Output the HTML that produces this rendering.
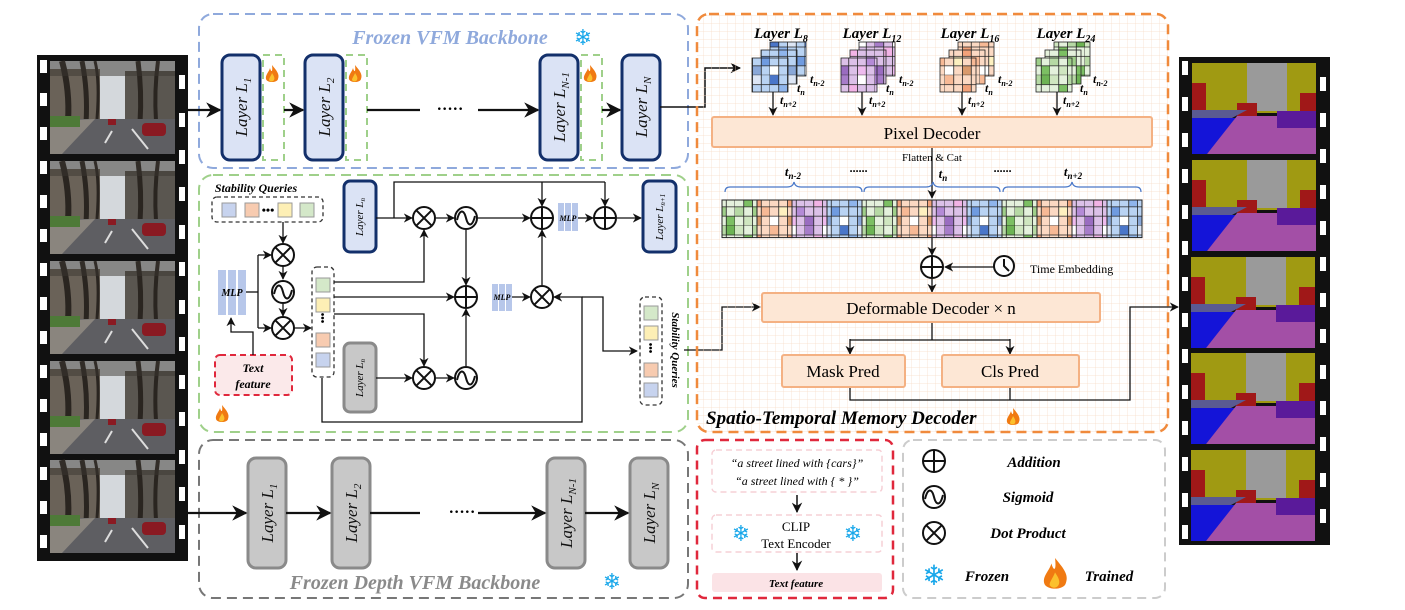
<!DOCTYPE html>
<html><head><meta charset="utf-8">
<style>
html,body{margin:0;padding:0;background:#fff;width:1405px;height:610px;overflow:hidden;}
svg{display:block;}
text{font-family:"Liberation Serif","DejaVu Serif",serif;}
.bi{font-weight:bold;font-style:italic;}
.lay{font-style:italic;font-size:17px;fill:#111;}
.sf{font-family:"DejaVu Sans",sans-serif;fill:#18a7ea;}
</style></head><body>
<svg width="1405" height="610" viewBox="0 0 1405 610" xmlns="http://www.w3.org/2000/svg">
<defs>
<marker id="a" viewBox="0 0 10 10" refX="9" refY="5" markerWidth="7" markerHeight="7" orient="auto-start-reverse"><path d="M0,0 L10,5 L0,10 L3,5z" fill="#111"/></marker>
<pattern id="grid" width="8" height="8" patternUnits="userSpaceOnUse"><path d="M8,0 V8 M0,8 H8" stroke="#f7dcc6" stroke-width="0.7" fill="none"/></pattern>
<g id="fire"><path d="M0,-10 C4,-5 8,-1 6,4 C5,8 -5,8 -6,4 C-7,0 -3,-3 -2,-7 C-1,-3 1,-2 0,-10z" fill="#f07a12"/><path d="M0,-2 C2,1 3,3 2,5 C1,7 -2,7 -3,5 C-3,3 -1,1 0,-2z" fill="#fbc02d"/></g>
<g id="plus" fill="none" stroke="#111" stroke-width="2"><circle r="11" fill="#fff"/><path d="M-11,0H11M0,-11V11"/></g>
<g id="times" fill="none" stroke="#111" stroke-width="2"><circle r="11" fill="#fff"/><path d="M-7.8,-7.8L7.8,7.8M7.8,-7.8L-7.8,7.8"/></g>
<g id="sig" fill="none" stroke="#111" stroke-width="2"><circle r="11" fill="#fff"/><path d="M-9,2 C-6,-10 -2,-8 0,0 C2,8 6,10 9,-2"/></g>
<pattern id="pg" width="35" height="37.6" patternUnits="userSpaceOnUse"><rect width="35" height="37.6" fill="#e4f1dc"/><rect x="0" y="0" width="8.75" height="9.4" fill="#cfe6c0"/><rect x="8.75" y="9.4" width="8.75" height="9.4" fill="#7cbf63"/><rect x="17.5" y="0" width="8.75" height="9.4" fill="#b6d9a4"/><rect x="26.25" y="0" width="8.75" height="9.4" fill="#6db354"/><rect x="0" y="18.8" width="8.75" height="9.4" fill="#b6d9a4"/><rect x="17.5" y="18.8" width="8.75" height="9.4" fill="#9fcf8a"/><rect x="8.75" y="28.2" width="8.75" height="9.4" fill="#cfe6c0"/><rect x="26.25" y="28.2" width="8.75" height="9.4" fill="#7cbf63"/><path d="M8.75,0V37.6M17.5,0V37.6M26.25,0V37.6M35,0V37.6M0,9.4H35M0,18.8H35M0,28.2H35M0,37.6H35" stroke="#222" stroke-width="0.8"/></pattern>
<pattern id="po" width="35" height="37.6" patternUnits="userSpaceOnUse"><rect width="35" height="37.6" fill="#fbd9c3"/><rect x="0" y="0" width="8.75" height="9.4" fill="#f7b995"/><rect x="17.5" y="9.4" width="8.75" height="9.4" fill="#f2a27a"/><rect x="8.75" y="18.8" width="8.75" height="9.4" fill="#fdf0c0"/><rect x="26.25" y="18.8" width="8.75" height="9.4" fill="#f7b995"/><rect x="0" y="28.2" width="8.75" height="9.4" fill="#fff"/><rect x="17.5" y="28.2" width="8.75" height="9.4" fill="#d99a6c"/><path d="M8.75,0V37.6M17.5,0V37.6M26.25,0V37.6M35,0V37.6M0,9.4H35M0,18.8H35M0,28.2H35M0,37.6H35" stroke="#222" stroke-width="0.8"/></pattern>
<pattern id="pp" width="35" height="37.6" patternUnits="userSpaceOnUse"><rect width="35" height="37.6" fill="#dcc0e8"/><rect x="0" y="0" width="8.75" height="9.4" fill="#a77cc9"/><rect x="8.75" y="9.4" width="8.75" height="9.4" fill="#f2b3e6"/><rect x="17.5" y="0" width="8.75" height="9.4" fill="#fff"/><rect x="26.25" y="18.8" width="8.75" height="9.4" fill="#b48ad6"/><rect x="0" y="28.2" width="8.75" height="9.4" fill="#9a6cc0"/><rect x="17.5" y="28.2" width="8.75" height="9.4" fill="#eebbee"/><path d="M8.75,0V37.6M17.5,0V37.6M26.25,0V37.6M35,0V37.6M0,9.4H35M0,18.8H35M0,28.2H35M0,37.6H35" stroke="#222" stroke-width="0.8"/></pattern>
<pattern id="pb" width="35" height="37.6" patternUnits="userSpaceOnUse"><rect width="35" height="37.6" fill="#b9d3f3"/><rect x="0" y="0" width="8.75" height="9.4" fill="#4a76c9"/><rect x="8.75" y="9.4" width="8.75" height="9.4" fill="#8fb5ec"/><rect x="17.5" y="0" width="8.75" height="9.4" fill="#dde6f5"/><rect x="26.25" y="18.8" width="8.75" height="9.4" fill="#6f9be0"/><rect x="0" y="28.2" width="8.75" height="9.4" fill="#fff"/><rect x="17.5" y="28.2" width="8.75" height="9.4" fill="#8aa8d8"/><path d="M8.75,0V37.6M17.5,0V37.6M26.25,0V37.6M35,0V37.6M0,9.4H35M0,18.8H35M0,28.2H35M0,37.6H35" stroke="#222" stroke-width="0.8"/></pattern>
<g id="photo"><rect width="125" height="93" fill="#d4d8dc"/><path d="M0,8H50V60H0z" fill="#6a6258"/><path d="M75,10 H125V62H75z" fill="#5a5650"/><g stroke="#2a2520" fill="none"><path d="M12,0 Q20,30 18,60" stroke-width="6"/><path d="M32,0 Q38,30 36,62" stroke-width="5"/><path d="M45,0 Q50,20 47,58" stroke-width="3"/><path d="M88,0 Q92,30 90,62" stroke-width="5"/><path d="M108,0 Q104,30 106,60" stroke-width="4"/></g><path d="M0,0H125V15H0z" fill="#3a3530" opacity="0.5"/><path d="M0,58H125V93H0z" fill="#5e5e62"/><path d="M0,60L45,58L12,93H0z" fill="#8a857e"/><path d="M0,55H30V66H0z" fill="#4e7a38"/><rect x="92" y="62" width="24" height="13" rx="4" fill="#8a1a22"/><rect x="58" y="58" width="8" height="6" fill="#8a1a22"/><path d="M55,82L62,70M98,88L82,68" stroke="#ddd" stroke-width="2"/></g>
<g id="seg"><rect width="124" height="91" fill="#111"/><path d="M0,0H124V50H0z" fill="#a09a12"/><path d="M55,0H95V48H55z" fill="#9a9a9a"/><path d="M0,20H14V55H0zM45,40H65V55H45zM108,30H124V55H108z" fill="#a01818"/><path d="M0,47H55L40,55H0z" fill="#5a5a92"/><path d="M0,55H45L15,91H0z" fill="#1414d8"/><path d="M45,53H124V91H15z" fill="#a34fa6"/><path d="M85,48H124V65H85z" fill="#5a1a9a"/></g>
</defs>

<!-- left film strip -->
<rect x="37" y="55" width="151" height="506" fill="#111"/>
<g fill="#fff">
<rect x="40" y="60" width="7" height="13"/><rect x="40" y="93" width="7" height="13"/><rect x="40" y="127" width="7" height="13"/><rect x="40" y="161" width="7" height="13"/><rect x="40" y="195" width="7" height="13"/><rect x="40" y="229" width="7" height="13"/><rect x="40" y="263" width="7" height="13"/><rect x="40" y="297" width="7" height="13"/><rect x="40" y="331" width="7" height="13"/><rect x="40" y="365" width="7" height="13"/><rect x="40" y="399" width="7" height="13"/><rect x="40" y="433" width="7" height="13"/><rect x="40" y="467" width="7" height="13"/><rect x="40" y="501" width="7" height="13"/><rect x="40" y="535" width="7" height="13"/>
<rect x="179" y="75" width="6" height="14"/><rect x="179" y="113" width="6" height="14"/><rect x="179" y="150" width="6" height="14"/><rect x="179" y="187" width="6" height="14"/><rect x="179" y="225" width="6" height="14"/><rect x="179" y="262" width="6" height="14"/><rect x="179" y="300" width="6" height="14"/><rect x="179" y="337" width="6" height="14"/><rect x="179" y="375" width="6" height="14"/><rect x="179" y="412" width="6" height="14"/><rect x="179" y="450" width="6" height="14"/><rect x="179" y="487" width="6" height="14"/><rect x="179" y="525" width="6" height="14"/>
</g>
<use href="#photo" x="50" y="61"/><use href="#photo" x="50" y="161"/><use href="#photo" x="50" y="261"/><use href="#photo" x="50" y="361"/><use href="#photo" x="50" y="460"/>

<!-- right film strip -->
<rect x="1179" y="57" width="151" height="488" fill="#111"/>
<g fill="#fff">
<rect x="1182" y="61" width="6" height="14"/><rect x="1182" y="97" width="6" height="14"/><rect x="1182" y="133" width="6" height="14"/><rect x="1182" y="169" width="6" height="14"/><rect x="1182" y="205" width="6" height="14"/><rect x="1182" y="241" width="6" height="14"/><rect x="1182" y="277" width="6" height="14"/><rect x="1182" y="313" width="6" height="14"/><rect x="1182" y="349" width="6" height="14"/><rect x="1182" y="385" width="6" height="14"/><rect x="1182" y="421" width="6" height="14"/><rect x="1182" y="457" width="6" height="14"/><rect x="1182" y="493" width="6" height="14"/><rect x="1182" y="525" width="6" height="14"/>
<rect x="1320" y="77" width="6" height="14"/><rect x="1320" y="113" width="6" height="14"/><rect x="1320" y="149" width="6" height="14"/><rect x="1320" y="185" width="6" height="14"/><rect x="1320" y="221" width="6" height="14"/><rect x="1320" y="257" width="6" height="14"/><rect x="1320" y="293" width="6" height="14"/><rect x="1320" y="329" width="6" height="14"/><rect x="1320" y="365" width="6" height="14"/><rect x="1320" y="401" width="6" height="14"/><rect x="1320" y="437" width="6" height="14"/><rect x="1320" y="473" width="6" height="14"/><rect x="1320" y="509" width="6" height="14"/>
</g>
<use href="#seg" x="1192" y="63"/><use href="#seg" x="1192" y="160"/><use href="#seg" x="1191" y="257"/><use href="#seg" x="1191" y="353"/><use href="#seg" x="1191" y="450"/>

<!-- Frozen VFM backbone -->
<rect x="199" y="14" width="489" height="154" rx="14" fill="none" stroke="#8fa9dc" stroke-width="2" stroke-dasharray="10,6"/>
<text x="450" y="44" text-anchor="middle" class="bi" font-size="20" fill="#8fa9dc">Frozen VFM Backbone</text>
<text x="583" y="45" class="sf" font-size="22" text-anchor="middle">❄</text>
<g fill="#dbe3f5" stroke="#13306b" stroke-width="3">
<rect x="222" y="55" width="38" height="105" rx="8"/><rect x="305" y="55" width="38" height="105" rx="8"/><rect x="540" y="55" width="38" height="105" rx="8"/><rect x="622" y="55" width="38" height="105" rx="8"/>
</g>
<g fill="none" stroke="#9fd08a" stroke-width="2" stroke-dasharray="7,5">
<rect x="263" y="55" width="21" height="105"/><rect x="346" y="55" width="21" height="105"/><rect x="581" y="55" width="21" height="105"/>
</g>
<use href="#fire" x="272" y="75"/><use href="#fire" x="355" y="75"/><use href="#fire" x="590" y="75"/>
<g class="lay">
<text transform="translate(247,107) rotate(-90)" text-anchor="middle">Layer L<tspan font-size="11" dy="4">1</tspan></text>
<text transform="translate(330,107) rotate(-90)" text-anchor="middle">Layer L<tspan font-size="11" dy="4">2</tspan></text>
<text transform="translate(565,107) rotate(-90)" text-anchor="middle">Layer L<tspan font-size="11" dy="4">N-1</tspan></text>
<text transform="translate(647,107) rotate(-90)" text-anchor="middle">Layer L<tspan font-size="11" dy="4">N</tspan></text>
</g>
<g stroke="#111" stroke-width="2.2" fill="none">
<path d="M188,110H220" marker-end="url(#a)"/><path d="M284,110H303" marker-end="url(#a)"/><path d="M367,110H420"/><path d="M478,110H538" marker-end="url(#a)"/><path d="M602,110H620" marker-end="url(#a)"/>
</g>
<text x="450" y="114" text-anchor="middle" font-size="16" font-weight="bold">·····</text>
<path d="M660,107H705V68H740" stroke="#111" stroke-width="1.5" fill="none" marker-end="url(#a)"/>

<!-- Depth backbone -->
<rect x="199" y="440" width="489" height="158" rx="14" fill="none" stroke="#777" stroke-width="2" stroke-dasharray="10,6"/>
<g fill="#c8c8c8" stroke="#8a8a8a" stroke-width="3">
<rect x="248" y="458" width="38" height="110" rx="8"/><rect x="332" y="458" width="38" height="110" rx="8"/><rect x="547" y="458" width="38" height="110" rx="8"/><rect x="630" y="458" width="38" height="110" rx="8"/>
</g>
<g class="lay">
<text transform="translate(273,513) rotate(-90)" text-anchor="middle">Layer L<tspan font-size="11" dy="4">1</tspan></text>
<text transform="translate(357,513) rotate(-90)" text-anchor="middle">Layer L<tspan font-size="11" dy="4">2</tspan></text>
<text transform="translate(572,513) rotate(-90)" text-anchor="middle">Layer L<tspan font-size="11" dy="4">N-1</tspan></text>
<text transform="translate(655,513) rotate(-90)" text-anchor="middle">Layer L<tspan font-size="11" dy="4">N</tspan></text>
</g>
<g stroke="#111" stroke-width="2.2" fill="none">
<path d="M188,513H246" marker-end="url(#a)"/><path d="M286,513H330" marker-end="url(#a)"/><path d="M370,513H420"/><path d="M478,513H545" marker-end="url(#a)"/><path d="M585,513H628" marker-end="url(#a)"/>
</g>
<text x="462" y="517" text-anchor="middle" font-size="16" font-weight="bold">·····</text>
<text x="415" y="589" text-anchor="middle" class="bi" font-size="20" fill="#8a8a8a">Frozen Depth VFM Backbone</text>
<text x="612" y="589" class="sf" font-size="22" text-anchor="middle">❄</text>

<!-- Green adapter box -->
<rect x="199" y="175" width="489" height="257" rx="14" fill="none" stroke="#9fd08a" stroke-width="2" stroke-dasharray="10,6"/>
<use href="#fire" x="222" y="415"/>
<text x="256" y="192" text-anchor="middle" class="bi" font-size="12">Stability Queries</text>
<rect x="212" y="197" width="111" height="25" rx="5" fill="none" stroke="#333" stroke-width="1.3" stroke-dasharray="4,3"/>
<g stroke="#999" stroke-width="1">
<rect x="222" y="203" width="14" height="14" fill="#c7d3ee"/><rect x="245" y="203" width="14" height="14" fill="#f7cbb0"/><rect x="278" y="203" width="14" height="14" fill="#fdefb5"/><rect x="300" y="203" width="14" height="14" fill="#d4e8c9"/>
</g>
<text x="268" y="214" text-anchor="middle" font-size="12" font-weight="bold">•••</text>
<g fill="#b7c7ea"><rect x="218" y="270" width="8" height="45"/><rect x="228" y="270" width="8" height="45"/><rect x="238" y="270" width="8" height="45"/></g>
<text x="232" y="296" text-anchor="middle" class="bi" font-size="10">MLP</text>
<rect x="215" y="355" width="77" height="40" rx="5" fill="#fbe9ea" stroke="#e0283c" stroke-width="2" stroke-dasharray="6,4"/>
<text x="253" y="372" text-anchor="middle" font-style="italic" font-weight="bold" font-size="12">Text</text>
<text x="253" y="388" text-anchor="middle" font-style="italic" font-weight="bold" font-size="12">feature</text>
<rect x="312" y="267" width="22" height="110" rx="5" fill="none" stroke="#333" stroke-width="1.3" stroke-dasharray="4,3"/>
<g stroke="#999" stroke-width="1">
<rect x="316" y="278" width="14" height="14" fill="#d4e8c9"/><rect x="316" y="298" width="14" height="14" fill="#fdefb5"/><rect x="316" y="333" width="14" height="14" fill="#f7cbb0"/><rect x="316" y="353" width="14" height="14" fill="#c7d3ee"/>
</g>
<text x="323" y="322" text-anchor="middle" font-size="10" font-weight="bold" transform="rotate(90,323,318)">•••</text>
<rect x="344" y="181" width="32" height="71" rx="6" fill="#dbe3f5" stroke="#13306b" stroke-width="3"/>
<rect x="643" y="181" width="33" height="71" rx="6" fill="#dbe3f5" stroke="#13306b" stroke-width="3"/>
<rect x="344" y="343" width="32" height="69" rx="6" fill="#c8c8c8" stroke="#8a8a8a" stroke-width="3"/>
<g font-style="italic" font-size="11">
<text transform="translate(363,217) rotate(-90)" text-anchor="middle">Layer L<tspan font-size="7" dy="2">n</tspan></text>
<text transform="translate(663,217) rotate(-90)" text-anchor="middle">Layer L<tspan font-size="7" dy="2">n+1</tspan></text>
<text transform="translate(363,378) rotate(-90)" text-anchor="middle">Layer L<tspan font-size="7" dy="2">n</tspan></text>
</g>
<g stroke="#111" stroke-width="1.3" fill="none">
<path d="M283,222V243" marker-end="url(#a)"/>
<path d="M283,266V279" marker-end="url(#a)"/><path d="M283,304V316" marker-end="url(#a)"/>
<path d="M246,292H258"/><path d="M258,255V328"/><path d="M258,255H271" marker-end="url(#a)"/><path d="M258,328H271" marker-end="url(#a)"/>
<path d="M253,355V332H231V318" marker-end="url(#a)"/>
<path d="M294,328H311" marker-end="url(#a)"/>
<path d="M334,282H424V230" marker-end="url(#a)"/>
<path d="M334,297H454" marker-end="url(#a)"/>
<path d="M334,314H424V366" marker-end="url(#a)"/>
<path d="M376,218H412" marker-end="url(#a)"/>
<path d="M394,218V182H605"/><path d="M542,182V206" marker-end="url(#a)"/><path d="M605,182V206" marker-end="url(#a)"/>
<path d="M436,218H454" marker-end="url(#a)"/>
<path d="M478,218H530" marker-end="url(#a)"/>
<path d="M578,218H593" marker-end="url(#a)"/>
<path d="M617,218H641" marker-end="url(#a)"/>
<path d="M466,230V285" marker-end="url(#a)"/>
<path d="M466,366V309" marker-end="url(#a)"/>
<path d="M376,378H412" marker-end="url(#a)"/>
<path d="M436,378H454" marker-end="url(#a)"/>
<path d="M512,297H530" marker-end="url(#a)"/>
<path d="M542,285V230" marker-end="url(#a)"/>
<path d="M322,378V422H582V297H554" marker-end="url(#a)"/>
<path d="M582,297H603V351H637" marker-end="url(#a)"/>
<path d="M684,350H722V307H760" marker-end="url(#a)"/>
</g>
<use href="#times" x="283" y="255"/><use href="#sig" x="283" y="292"/><use href="#times" x="283" y="328"/>
<use href="#times" x="424" y="218"/><use href="#sig" x="466" y="218"/><use href="#plus" x="542" y="218"/><use href="#plus" x="605" y="218"/>
<use href="#plus" x="466" y="297"/><use href="#times" x="542" y="297"/>
<use href="#times" x="424" y="378"/><use href="#sig" x="466" y="378"/>
<g fill="#b7c7ea"><rect x="558" y="203" width="6" height="28"/><rect x="565" y="203" width="6" height="28"/><rect x="572" y="203" width="6" height="28"/><rect x="492" y="284" width="6" height="27"/><rect x="499" y="284" width="6" height="27"/><rect x="506" y="284" width="6" height="27"/></g>
<text x="568" y="221" text-anchor="middle" class="bi" font-size="8">MLP</text>
<text x="502" y="300" text-anchor="middle" class="bi" font-size="8">MLP</text>
<rect x="640" y="297" width="22" height="108" rx="5" fill="none" stroke="#333" stroke-width="1.3" stroke-dasharray="4,3"/>
<g stroke="#999" stroke-width="1">
<rect x="644" y="306" width="14" height="14" fill="#d4e8c9"/><rect x="644" y="326" width="14" height="14" fill="#fdefb5"/><rect x="644" y="363" width="14" height="14" fill="#f7cbb0"/><rect x="644" y="383" width="14" height="14" fill="#c7d3ee"/>
</g>
<text x="651" y="352" text-anchor="middle" font-size="10" font-weight="bold" transform="rotate(90,651,348)">•••</text>
<text transform="translate(672,350) rotate(90)" text-anchor="middle" class="bi" font-size="11">Stability Queries</text>

<!-- Orange decoder box -->
<rect x="697" y="14" width="471" height="418" rx="12" fill="url(#grid)"/>
<rect x="697" y="14" width="471" height="418" rx="12" fill="none" stroke="#f08a3c" stroke-width="2.5" stroke-dasharray="10,6"/>
<g stroke="#222" stroke-width="0.8">
<rect x="770" y="42" width="36" height="34" fill="url(#pb)"/><rect x="761" y="50" width="36" height="34" fill="url(#pb)"/><rect x="752" y="58" width="36" height="34" fill="url(#pb)"/>
<rect x="859" y="42" width="36" height="34" fill="url(#pp)"/><rect x="850" y="50" width="36" height="34" fill="url(#pp)"/><rect x="841" y="58" width="36" height="34" fill="url(#pp)"/>
<rect x="958" y="42" width="36" height="34" fill="url(#po)"/><rect x="949" y="50" width="36" height="34" fill="url(#po)"/><rect x="940" y="58" width="36" height="34" fill="url(#po)"/>
<rect x="1054" y="42" width="36" height="34" fill="url(#pg)"/><rect x="1045" y="50" width="36" height="34" fill="url(#pg)"/><rect x="1036" y="58" width="36" height="34" fill="url(#pg)"/>
</g>
<g class="bi" font-size="15" text-anchor="middle">
<text x="781" y="38">Layer L<tspan font-size="10" dy="4">8</tspan></text>
<text x="872" y="38">Layer L<tspan font-size="10" dy="4">12</tspan></text>
<text x="970" y="38">Layer L<tspan font-size="10" dy="4">16</tspan></text>
<text x="1066" y="38">Layer L<tspan font-size="10" dy="4">24</tspan></text>
</g>
<g class="bi" font-size="12">
<text x="810" y="83">t<tspan font-size="8" dy="3">n-2</tspan></text><text x="797" y="92">t<tspan font-size="8" dy="3">n</tspan></text><text x="780" y="104">t<tspan font-size="8" dy="3">n+2</tspan></text>
<text x="899" y="83">t<tspan font-size="8" dy="3">n-2</tspan></text><text x="886" y="92">t<tspan font-size="8" dy="3">n</tspan></text><text x="869" y="104">t<tspan font-size="8" dy="3">n+2</tspan></text>
<text x="998" y="83">t<tspan font-size="8" dy="3">n-2</tspan></text><text x="985" y="92">t<tspan font-size="8" dy="3">n</tspan></text><text x="968" y="104">t<tspan font-size="8" dy="3">n+2</tspan></text>
<text x="1093" y="83">t<tspan font-size="8" dy="3">n-2</tspan></text><text x="1080" y="92">t<tspan font-size="8" dy="3">n</tspan></text><text x="1063" y="104">t<tspan font-size="8" dy="3">n+2</tspan></text>
</g>
<g stroke="#111" stroke-width="1.3" fill="none">
<path d="M773,92V115" marker-end="url(#a)"/><path d="M862,92V115" marker-end="url(#a)"/><path d="M962,92V115" marker-end="url(#a)"/><path d="M1057,92V115" marker-end="url(#a)"/>
<path d="M932,147V198" marker-end="url(#a)"/>
<path d="M932,238V255" marker-end="url(#a)"/>
<path d="M994,267H945" marker-end="url(#a)"/>
<path d="M932,279V292" marker-end="url(#a)"/>
<path d="M932,322V340M850,340H1010"/>
<path d="M850,339V354" marker-end="url(#a)"/><path d="M1010,339V354" marker-end="url(#a)"/>
<path d="M850,387V400H1130V307H1178" marker-end="url(#a)"/><path d="M1010,387V400"/>
</g>
<rect x="712" y="117" width="440" height="30" rx="2" fill="#fde7d5" stroke="#f4b183" stroke-width="2"/>
<text x="932" y="139" text-anchor="middle" font-size="17">Pixel Decoder</text>
<text x="932" y="161" text-anchor="middle" font-size="11">Flatten &amp; Cat</text>
<g class="bi" font-size="13" text-anchor="middle">
<text x="793" y="176">t<tspan font-size="9" dy="3">n-2</tspan></text>
<text x="943" y="178">t<tspan font-size="9" dy="3">n</tspan></text>
<text x="1073" y="176">t<tspan font-size="9" dy="3">n+2</tspan></text>
<text x="859" y="172" font-size="12">......</text><text x="1003" y="172" font-size="12">......</text>
</g>
<g stroke="#4a78c8" stroke-width="1.2" fill="none">
<path d="M725,192 Q725,187 730,187 H787 Q793,187 794,182 Q795,187 801,187 H857 Q862,187 862,192"/>
<path d="M864,192 Q864,187 869,187 H926 Q932,187 933,182 Q934,187 940,187 H995 Q1000,187 1000,192"/>
<path d="M1003,192 Q1003,187 1008,187 H1065 Q1071,187 1072,182 Q1073,187 1079,187 H1136 Q1141,187 1141,192"/>
</g>
<g stroke="#222" stroke-width="1">
<rect x="722" y="200" width="35" height="37.6" fill="url(#pg)"/><rect x="757" y="200" width="35" height="37.6" fill="url(#po)"/><rect x="792" y="200" width="35" height="37.6" fill="url(#pp)"/><rect x="827" y="200" width="35" height="37.6" fill="url(#pb)"/>
<rect x="862" y="200" width="35" height="37.6" fill="url(#pg)"/><rect x="897" y="200" width="35" height="37.6" fill="url(#po)"/><rect x="932" y="200" width="35" height="37.6" fill="url(#pp)"/><rect x="967" y="200" width="35" height="37.6" fill="url(#pb)"/>
<rect x="1002" y="200" width="35" height="37.6" fill="url(#pg)"/><rect x="1037" y="200" width="35" height="37.6" fill="url(#po)"/><rect x="1072" y="200" width="35" height="37.6" fill="url(#pp)"/><rect x="1107" y="200" width="35" height="37.6" fill="url(#pb)"/>
</g>
<use href="#plus" x="932" y="267"/>
<g fill="#fff" stroke="#111" stroke-width="2"><circle cx="1004" cy="266" r="10"/><path d="M1004,259V266L1009,271" fill="none"/></g>
<text x="1030" y="273" font-size="12">Time Embedding</text>
<rect x="762" y="293" width="338" height="29" rx="2" fill="#fde7d5" stroke="#f4b183" stroke-width="2"/>
<text x="931" y="314" text-anchor="middle" font-size="17">Deformable Decoder × n</text>
<rect x="782" y="355" width="123" height="32" rx="2" fill="#fde7d5" stroke="#f4b183" stroke-width="2"/>
<text x="843" y="377" text-anchor="middle" font-size="17">Mask Pred</text>
<rect x="942" y="355" width="137" height="32" rx="2" fill="#fde7d5" stroke="#f4b183" stroke-width="2"/>
<text x="1010" y="377" text-anchor="middle" font-size="17">Cls Pred</text>
<text x="706" y="424" class="bi" font-size="19">Spatio-Temporal Memory Decoder</text>
<use href="#fire" x="1013" y="418"/>

<!-- Red text box -->
<rect x="697" y="440" width="196" height="158" rx="8" fill="none" stroke="#e0283c" stroke-width="2.5" stroke-dasharray="9,6"/>
<rect x="712" y="450" width="170" height="42" rx="4" fill="none" stroke="#f6d0d6" stroke-width="1.5" stroke-dasharray="6,4"/>
<text x="797" y="467" text-anchor="middle" font-style="italic" font-size="12">“a street lined with {cars}”</text>
<text x="797" y="485" text-anchor="middle" font-style="italic" font-size="12">“a street lined with { * }”</text>
<rect x="712" y="515" width="170" height="37" rx="4" fill="none" stroke="#f6d0d6" stroke-width="1.5" stroke-dasharray="6,4"/>
<text x="796" y="531" text-anchor="middle" font-size="13">CLIP</text>
<text x="796" y="548" text-anchor="middle" font-size="13">Text Encoder</text>
<text x="741" y="541" class="sf" font-size="22" text-anchor="middle">❄</text>
<text x="853" y="541" class="sf" font-size="22" text-anchor="middle">❄</text>
<rect x="712" y="573" width="170" height="19" rx="3" fill="#fbe3e6"/>
<text x="796" y="587" text-anchor="middle" class="bi" font-size="11">Text feature</text>
<g stroke="#111" stroke-width="1.5" fill="none">
<path d="M797,495V512" marker-end="url(#a)"/><path d="M797,553V570" marker-end="url(#a)"/>
</g>

<!-- Legend -->
<rect x="903" y="440" width="262" height="158" rx="10" fill="none" stroke="#ccc" stroke-width="2" stroke-dasharray="9,6"/>
<use href="#plus" x="934" y="461"/>
<use href="#sig" x="934" y="497"/>
<use href="#times" x="934" y="533"/>
<g class="bi" font-size="15" text-anchor="middle">
<text x="1034" y="467">Addition</text><text x="1028" y="502">Sigmoid</text><text x="1028" y="538">Dot Product</text>
<text x="987" y="581">Frozen</text><text x="1109" y="581">Trained</text>
</g>
<text x="934" y="585" class="sf" font-size="28" text-anchor="middle">❄</text>
<g transform="translate(1055,576) scale(1.8)"><use href="#fire"/></g>
</svg>
</body></html>
